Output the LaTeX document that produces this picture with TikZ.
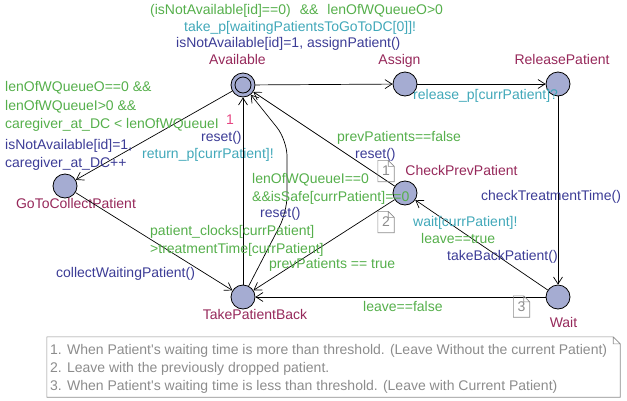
\documentclass[tikz,border=0pt]{standalone}
\usepackage{fontspec}
\setmainfont{Liberation Sans}
\newfontfamily\legfont{Liberation Sans}
\usetikzlibrary{arrows.meta}
\definecolor{grd}{RGB}{85,175,75}
\definecolor{syn}{RGB}{65,168,185}
\definecolor{upd}{RGB}{60,60,150}
\definecolor{loc}{RGB}{150,40,90}
\definecolor{locfill}{RGB}{165,172,210}
\definecolor{pinkc}{RGB}{230,70,130}
\definecolor{notegray}{RGB}{140,140,140}
\begin{document}
\begin{tikzpicture}[x=1pt,y=-1pt,
  every node/.style={font=\fontsize{14}{16}\selectfont, inner sep=0pt},
  state/.style={circle, draw=black, fill=locfill, minimum size=24pt, line width=0.8pt},
  lab/.style={text height=10pt, text depth=3pt, anchor=west},
  locname/.style={text=loc, text height=10pt, text depth=3pt},
  guard/.style={lab, text=grd},
  sync/.style={lab, text=syn},
  upda/.style={lab, text=upd},
  edgeline/.style={draw=black, line width=0.7pt, -{Straight Barb[length=7pt,width=9pt]}},
  noteicon/.style={minimum width=16pt, minimum height=21pt, text=notegray},
  notec/.style={draw=notegray, line width=0.6pt}
]
\useasboundingbox (0,0) rectangle (627,400);

% locations
\node[state] (A) at (243,85) {};
\draw[line width=0.8pt] (A.center) circle[radius=8];
\node[state] (As) at (405,84) {};
\node[state] (R) at (558,84) {};
\node[state] (C) at (405,193) {};
\node[state] (G) at (65,186) {};
\node[state] (T) at (243,297) {};
\node[state] (W) at (558,297) {};

\node[locname] (nA) at (237.5,61) {Available};
\node[locname] (nAs) at (399.5,61) {Assign};
\node[locname] (nR) at (562,61) {ReleasePatient};
\node[locname] (nC) at (461.5,172) {CheckPrevPatient};
\node[locname] (nG) at (76,205) {GoToCollectPatient};
\node[locname] (nT) at (255,316) {TakePatientBack};
\node[locname] (nW) at (563.5,324) {Wait};

% edges
\coordinate (k1) at (287,212);
\coordinate (k2) at (287,140);
\draw[edgeline] (A) -- (As);
\draw[edgeline] (As) -- (R);
\draw[edgeline] (R) -- (W);
\draw[edgeline] (W) -- (C);
\draw[edgeline] (W) -- (T);
\draw[edgeline] (C) -- (A);
\draw[edgeline] (C) -- (T);
\draw[edgeline] (T) -- (A);
\draw[edgeline, rounded corners=16pt] (T) -- (k1) -- (k2) -- (A);
\draw[edgeline] (A) -- (G);
\draw[edgeline] (G) -- (T);

% labels: Available -> Assign
\node[guard] (l1) at (150,11) {(isNotAvailable[id]==0)\hspace{9pt}\&\&\hspace{9pt}lenOfWQueueO>0};
\node[sync] (l2) at (184,28) {take\_p[waitingPatientsToGoToDC[0]]!};
\node[upda] (l3) at (176,44) {isNotAvailable[id]=1, assignPatient()};
% Available -> GoToCollectPatient
\node[guard] (l4) at (5,88) {lenOfWQueueO==0 \&\&};
\node[guard] (l5) at (5,107) {lenOfWQueueI>0 \&\&};
\node[guard] (l6) at (5,125) {caregiver\_at\_DC < lenOfWQueueI};
\node[upda] (l7) at (5,146) {isNotAvailable[id]=1,};
\node[upda] (l8) at (5,164) {caregiver\_at\_DC++};
% TakePatientBack -> Available (straight)
\node[lab, text=pinkc] (l9) at (226,121) {1};
\node[upda] (l10) at (201,138) {reset()};
\node[sync] (l11) at (142,155) {return\_p[currPatient]!};
\node[guard] (l12) at (150,232) {patient\_clocks[currPatient]};
\node[guard] (l13) at (150,250) {>treatmentTime[currPatient]};
% TakePatientBack -> Available (curved)
\node[guard] (l14) at (252,180) {lenOfWQueueI==0};
\node[guard] (l15) at (252,198) {\&\&isSafe[currPatient]==0};
\node[upda] (l16) at (260,214) {reset()};
% CheckPrevPatient edges
\node[guard] (l17) at (269,265) {prevPatients == true};
\node[guard] (l18) at (337,138) {prevPatients==false};
\node[upda] (l19) at (355,155) {reset()};
% GoToCollectPatient -> TakePatientBack
\node[upda] (l20) at (56,274) {collectWaitingPatient()};
% Assign -> ReleasePatient
\node[sync] (l21) at (413,96) {release\_p[currPatient]?};
% ReleasePatient -> Wait
\node[upda] (l22) at (481,197) {checkTreatmentTime()};
% Wait -> CheckPrevPatient
\node[sync] (l23) at (413,223) {wait[currPatient]!};
\node[guard] (l24) at (421,240) {leave==true};
\node[upda] (l25) at (447,257) {takeBackPatient()};
% Wait -> TakePatientBack
\node[guard] (l26) at (363,308) {leave==false};

% note icons
\node[noteicon] (n1) at (386,171) {1};
\node[noteicon] (n2) at (386,222) {2};
\node[noteicon] (n3) at (521.5,306.5) {3};
\foreach \n in {n1,n2,n3}
  \draw[notec] (\n.south west) -- (\n.north west) -- ([xshift=-6pt]\n.north east)
    -- ([yshift=-6pt]\n.north east) -- (\n.south east) -- cycle
    ([xshift=-6pt]\n.north east) -- ([xshift=-6pt,yshift=-6pt]\n.north east) -- ([yshift=-6pt]\n.north east);

% legend
\node[minimum width=573pt, minimum height=60pt] (leg) at (333.5,367) {};
\draw[notec] (leg.south west) -- (leg.north west) -- ([xshift=-7pt]leg.north east)
  -- ([yshift=-7pt]leg.north east) -- (leg.south east) -- cycle
  ([xshift=-7pt]leg.north east) -- ([xshift=-7pt,yshift=-7pt]leg.north east) -- ([yshift=-7pt]leg.north east);
\node[anchor=west, align=left, text=notegray, font=\legfont\fontsize{14}{18}\selectfont] (legtxt) at (50,369)
  {1. When Patient's waiting time is more than threshold. (Leave Without the current Patient)\\
   2. Leave with the previously dropped patient.\\
   3. When Patient's waiting time is less than threshold. (Leave with Current Patient)};
\end{tikzpicture}
\end{document}
